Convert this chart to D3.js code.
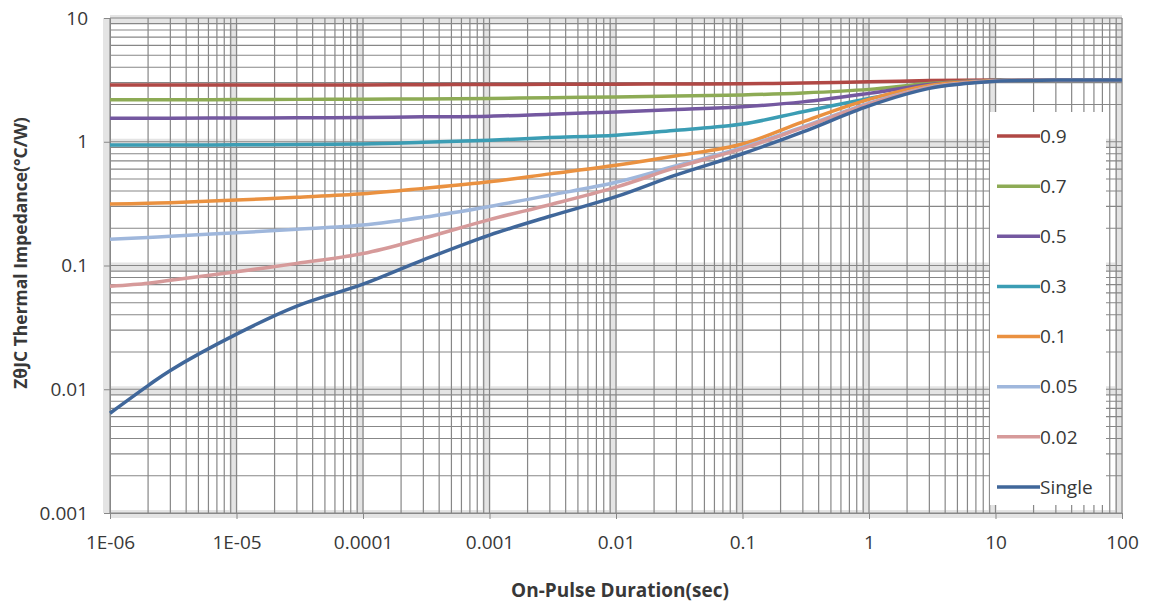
<!DOCTYPE html>
<html>
<head>
<meta charset="utf-8">
<script src="https://cdn.jsdelivr.net/npm/d3@7"></script>
<style>
  body { margin: 0; background: #fff; }
  #graf text { font-family: "Open Sans", sans-serif; fill: #383838; }
  .axis path, .axis line { stroke: #888; }
</style>
</head>
<body>
<div id="graf"></div>
<script>
// Datos
const durations = [1e-6, 2e-6, 3e-6, 1e-5, 3e-5, 1e-4, 3e-4, 1e-3, 3e-3, 1e-2, 3e-2, 1e-1, 3e-1, 1, 3, 10, 30, 100]

const seriesNames = ["0.9", "0.7", "0.5", "0.3", "0.1", "0.05", "0.02", "Single"]
const seriesColors = ["#b04845", "#8dab55", "#7458a0", "#3b9db4", "#ea9140", "#9fb7dc", "#d69a9a", "#40679a"]

const z09 = [2.87, 2.87, 2.87, 2.87, 2.87, 2.88, 2.89, 2.9, 2.91, 2.92, 2.93, 2.94, 2.98, 3.05, 3.12, 3.15, 3.16, 3.16]
const z07 = [2.18, 2.18, 2.18, 2.19, 2.2, 2.21, 2.22, 2.24, 2.27, 2.3, 2.34, 2.39, 2.48, 2.65, 2.95, 3.14, 3.16, 3.16]
const z05 = [1.546, 1.548, 1.55, 1.555, 1.56, 1.57, 1.59, 1.61, 1.67, 1.74, 1.82, 1.92, 2.1, 2.46, 2.9, 3.14, 3.16, 3.16]
const z03 = [0.94, 0.94, 0.94, 0.945, 0.95, 0.96, 0.99, 1.03, 1.08, 1.13, 1.24, 1.39, 1.75, 2.24, 2.78, 3.13, 3.15, 3.16]
const z01 = [0.314, 0.318, 0.322, 0.338, 0.356, 0.38, 0.42, 0.475, 0.55, 0.645, 0.77, 0.96, 1.45, 2.2, 2.85, 3.12, 3.15, 3.16]
const z005 = [0.163, 0.168, 0.172, 0.184, 0.196, 0.212, 0.245, 0.3, 0.37, 0.47, 0.64, 0.9, 1.32, 2.05, 2.76, 3.1, 3.15, 3.16]
const z002 = [0.068, 0.072, 0.076, 0.089, 0.104, 0.125, 0.166, 0.235, 0.31, 0.43, 0.62, 0.88, 1.3, 2.02, 2.74, 3.1, 3.15, 3.16]
const zSingle = [0.0064, 0.0107, 0.0142, 0.0279, 0.047, 0.0706, 0.111, 0.176, 0.25, 0.36, 0.54, 0.8, 1.2, 1.95, 2.7, 3.08, 3.15, 3.16]

const xTickValues = [1e-6, 1e-5, 1e-4, 1e-3, 1e-2, 1e-1, 1, 10, 100]
const xTickLabels = ["1E-06", "1E-05", "0.0001", "0.001", "0.01", "0.1", "1", "10", "100"]
const yTickValues = [0.001, 0.01, 0.1, 1, 10]
const yTickLabels = ["0.001", "0.01", "0.1", "1", "10"]

const draw = () => {
  const graf = d3.select("#graf")

  const anchoTotal = 1149
  const altoTotal = 605
  const margins = { top: 18, right: 27, bottom: 92, left: 110 }
  const ancho = anchoTotal - margins.left - margins.right
  const alto = altoTotal - margins.top - margins.bottom

  const allSeries = [z09, z07, z05, z03, z01, z005, z002, zSingle]

  // Escaladores
  const x = d3.scaleLog().domain([1e-6, 100]).range([0, ancho])
  const y = d3.scaleLog().domain([0.001, 10]).range([alto, 0])

  const svg = graf.append("svg").attr("width", anchoTotal).attr("height", altoTotal)
  const chart = svg.append("g").attr("transform", `translate(${margins.left}, ${margins.top})`)

  const isMajor = (v) => Math.abs(Math.log10(v) - Math.round(Math.log10(v))) < 1e-9

  // Rejilla: bandas claras en las decadas
  const grid = chart.append("g")
  grid.selectAll("rect.vband")
    .data(x.ticks().filter(isMajor))
    .join("rect")
    .attr("x", (d) => x(d) - 7)
    .attr("y", 0)
    .attr("width", 8)
    .attr("height", alto)
    .attr("fill", "#e4e4e4")
  grid.selectAll("rect.hband")
    .data(y.ticks().filter(isMajor))
    .join("rect")
    .attr("x", 0)
    .attr("y", (d) => y(d) - 3)
    .attr("width", ancho)
    .attr("height", 8)
    .attr("fill", "#e4e4e4")

  grid.selectAll("line.vx")
    .data(x.ticks())
    .join("line")
    .attr("x1", (d) => x(d))
    .attr("x2", (d) => x(d))
    .attr("y1", 0)
    .attr("y2", alto)
    .attr("stroke", "#878787")
    .attr("stroke-width", 1.2)
  grid.selectAll("line.hy")
    .data(y.ticks())
    .join("line")
    .attr("x1", 0)
    .attr("x2", ancho)
    .attr("y1", (d) => y(d))
    .attr("y2", (d) => y(d))
    .attr("stroke", "#878787")
    .attr("stroke-width", 1.2)

  // Ejes
  const xAxis = d3.axisBottom(x)
    .tickValues(xTickValues)
    .tickFormat((d, i) => xTickLabels[i])
    .tickSize(6)
    .tickPadding(17)
  const yAxis = d3.axisLeft(y)
    .tickValues(yTickValues)
    .tickFormat((d, i) => yTickLabels[i])
    .tickSize(6)
    .tickPadding(16)

  chart.append("g")
    .attr("transform", `translate(0, ${alto})`)
    .call(xAxis)
    .classed("axis", true)
  chart.append("g").call(yAxis).classed("axis", true)
  chart.selectAll(".axis text").style("font-size", "19px")

  // Leyenda (fondo blanco dentro del grafico)
  const legendX = 880
  const legendY = d3.scalePoint().domain(seriesNames).range([118, 469])
  const legend = chart.append("g")
  legend.append("rect")
    .attr("x", legendX)
    .attr("y", 94)
    .attr("width", 116)
    .attr("height", 393)
    .attr("fill", "#fff")

  // Curvas
  const line = d3.line()
    .x((d) => x(d[0]))
    .y((d) => y(d[1]))
    .curve(d3.curveCatmullRom.alpha(0.5))

  chart.append("g")
    .selectAll("path")
    .data(allSeries.map((s, i) => ({ name: seriesNames[i], color: seriesColors[i], values: durations.map((t, j) => [t, s[j]]) })))
    .join("path")
    .attr("d", (d) => line(d.values))
    .attr("fill", "none")
    .attr("stroke", (d) => d.color)
    .attr("stroke-width", 3.5)
    .attr("stroke-linejoin", "round")

  const items = legend.selectAll("g.item")
    .data(seriesNames)
    .join("g")
    .attr("transform", (d) => `translate(${legendX + 7}, ${legendY(d)})`)
  items.append("line")
    .attr("x1", 0)
    .attr("x2", 43)
    .attr("stroke", (d, i) => seriesColors[i])
    .attr("stroke-width", 3.5)
  items.append("text")
    .attr("x", 43)
    .attr("dy", "0.35em")
    .style("font-size", "19px")
    .text((d) => d)

  // Titulos de los ejes
  svg.append("text")
    .attr("x", margins.left + ancho / 2 + 4)
    .attr("y", 597)
    .attr("text-anchor", "middle")
    .style("font-size", "19px")
    .style("font-weight", "bold")
    .text("On-Pulse Duration(sec)")
  svg.append("text")
    .attr("transform", `translate(27, ${margins.top + 235}) rotate(-90)`)
    .attr("text-anchor", "middle")
    .style("font-size", "17.5px")
    .style("font-weight", "bold")
    .text("ZθJC Thermal Impedance(°C/W)")
}

draw()
</script>
</body>
</html>
